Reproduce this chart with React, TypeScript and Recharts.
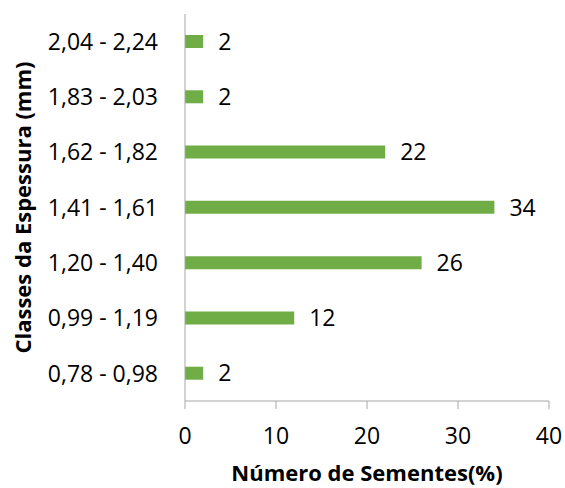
import React from "react";
import { BarChart, Bar, XAxis, YAxis, LabelList } from "recharts";

const classes = [
  "2,04 - 2,24",
  "1,83 - 2,03",
  "1,62 - 1,82",
  "1,41 - 1,61",
  "1,20 - 1,40",
  "0,99 - 1,19",
  "0,78 - 0,98",
];
const sementes = [2, 2, 22, 34, 26, 12, 2];
const xTicks = [0, 10, 20, 30, 40];

const data = classes.map((c, i) => ({ classe: c, valor: sementes[i] }));

const FONT = "'Open Sans', sans-serif";

const App: React.FC = () => (
  <div style={{ position: "absolute", left: 0, top: 0, width: 565, height: 488, fontFamily: FONT }}>
    <BarChart
      width={565}
      height={488}
      data={data}
      layout="vertical"
      margin={{ top: 14, right: 16, left: 0, bottom: 0 }}
    >
      <XAxis
        type="number"
        domain={[0, 40]}
        ticks={xTicks}
        height={87}
        stroke="#a6a6a6"
        tickSize={8}
        tickMargin={19}
        tick={{ fill: "#000", fontSize: 23, fontFamily: FONT }}
        label={{
          content: ({ viewBox }: any) => (
            <text
              x={viewBox.x + viewBox.width / 2}
              y={472}
              textAnchor="middle"
              dominantBaseline="central"
              fontSize={22}
              fontWeight="bold"
              fontFamily={FONT}
              fill="#000"
            >
              Número de Sementes(%)
            </text>
          ),
        }}
      />
      <YAxis
        type="category"
        dataKey="classe"
        width={185}
        stroke="#a6a6a6"
        tickLine={false}
        tickSize={6}
        tickMargin={21}
        tick={{ fill: "#000", fontSize: 23, fontFamily: FONT }}
        label={{
          content: ({ viewBox }: any) => (
            <text
              x={22}
              y={viewBox.y + viewBox.height / 2}
              transform={`rotate(-90, 22, ${viewBox.y + viewBox.height / 2})`}
              textAnchor="middle"
              dominantBaseline="central"
              fontSize={22}
              fontWeight="bold"
              fontFamily={FONT}
              fill="#000"
            >
              Classes da Espessura (mm)
            </text>
          ),
        }}
      />
      <Bar dataKey="valor" fill="#70ad47" barSize={13} isAnimationActive={false}>
        <LabelList
          dataKey="valor"
          position="right"
          offset={15}
          fill="#000"
          fontSize={23}
          fontFamily={FONT}
        />
      </Bar>
    </BarChart>
  </div>
);

export default App;
